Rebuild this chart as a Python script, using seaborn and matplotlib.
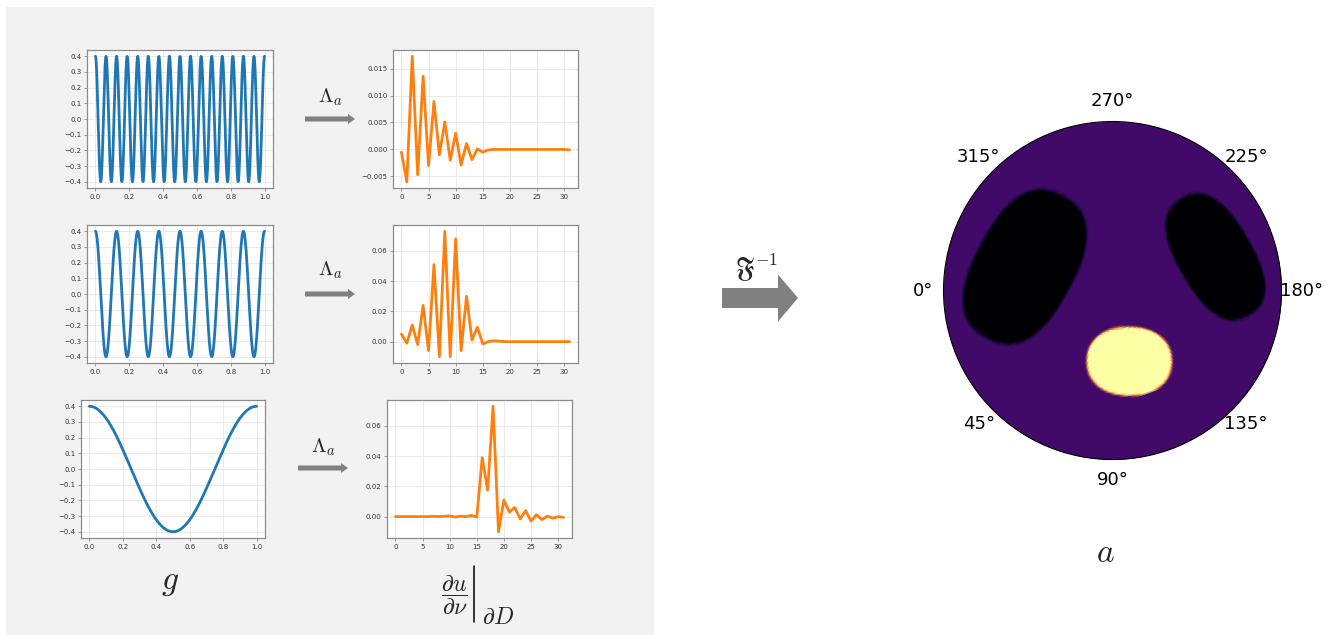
import numpy as np
import matplotlib
matplotlib.use("Agg")
import matplotlib.pyplot as plt
import matplotlib.patches as mpatches
import seaborn as sns

W, H = 1327, 635

# boundary data g = amp * cos(2*pi*freq*x), one row per frequency
freqs = [16, 8, 1]
amp = 0.4

# measured Neumann data, 32 boundary samples per row
resp_16 = [-0.0005, -0.006, 0.0173, -0.0047, 0.0136, -0.003, 0.0089, -0.001,
           0.0051, -0.002, 0.003, -0.0029, 0.0011, -0.0019, 0.0001, -0.0005,
           -0.0001, 0.0, 0.0, 0.0, 0.0, 0.0, 0.0, 0.0,
           0.0, 0.0, 0.0, 0.0, 0.0, 0.0, 0.0, -0.0001]
resp_8 = [0.005, -0.001, 0.011, -0.002, 0.024, -0.006, 0.051, -0.010,
          0.073, -0.010, 0.068, -0.006, 0.030, 0.001, 0.0095, -0.0015,
          0.0, 0.0005, 0.0003, 0.0, 0.0, 0.0, 0.0, 0.0,
          0.0, 0.0, 0.0, 0.0, 0.0, 0.0, 0.0, 0.0]
resp_1 = [0.0, 0.0, 0.0, 0.0, 0.0, 0.0, 0.0, 0.0002,
          0.0, 0.0002, 0.0005, -0.0003, 0.0003, 0.0, 0.0008, -0.0003,
          0.039, 0.0175, 0.073, -0.010, 0.011, 0.003, 0.006, -0.0015,
          0.004, -0.003, 0.0013, -0.002, 0.0003, -0.001, 0.0, -0.0005]
responses = [resp_16, resp_8, resp_1]

# reconstructed conductivity: inclusions as (super)ellipses in the unit disc
blob_u = [-0.52, 0.61, 0.10]
blob_v = [0.14, 0.20, -0.42]
blob_a = [0.49, 0.41, 0.26]
blob_b = [0.30, 0.225, 0.21]
blob_angle = [62, -60, 0]
blob_power = [2.5, 2.5, 2.2]
blob_level = [0.0, 0.0, 1.0]
background_level = 0.2

theta_labels = ["0°", "45°", "90°", "135°", "180°", "225°", "270°", "315°"]

sns.set_style("whitegrid", {
    "axes.edgecolor": "#8c8c8c",
    "grid.color": "#e6e6e6",
    "xtick.bottom": True,
    "ytick.left": True,
    "xtick.color": "#8c8c8c",
    "ytick.color": "#8c8c8c",
})
plt.rcParams["mathtext.fontset"] = "cm"

fig = plt.figure(figsize=(W / 100, H / 100), dpi=100)
fig.patches.append(mpatches.Rectangle((6 / W, 0), (654 - 6) / W, 1 - 7 / H,
                                      transform=fig.transFigure,
                                      facecolor="#f2f2f2", edgecolor="none",
                                      zorder=-5))


def px_axes(x0, y0, x1, y1, **kw):
    return fig.add_axes([x0 / W, 1 - y1 / H, (x1 - x0) / W, (y1 - y0) / H], **kw)


def style_small(ax):
    ax.tick_params(labelsize=5, length=2, width=0.6, labelcolor="#333333", pad=2)
    for s in ax.spines.values():
        s.set_linewidth(0.9)
    ax.grid(True, lw=0.6)


left_boxes = [(87, 50, 273, 188), (87, 225, 273, 363), (81, 400, 265, 538)]
right_boxes = [(393, 50, 578, 188), (393, 225, 578, 363), (387, 400, 572, 538)]

x = np.linspace(0, 1, 600)
for f, box in zip(freqs, left_boxes):
    ax = px_axes(*box)
    sns.lineplot(x=x, y=amp * np.cos(2 * np.pi * f * x), ax=ax,
                 color="#1f77b4", lw=2)
    ax.set_xticks(np.arange(0, 1.01, 0.2))
    ax.set_yticks(np.arange(-0.4, 0.41, 0.1))
    style_small(ax)

for resp, box in zip(responses, right_boxes):
    ax = px_axes(*box)
    sns.lineplot(x=np.arange(len(resp)), y=resp, ax=ax, color="#ff7f0e", lw=2)
    ax.set_xticks(np.arange(0, 31, 5))
    style_small(ax)

# overlay in pixel coordinates for arrows and labels
ov = fig.add_axes([0, 0, 1, 1], facecolor="none")
ov.set_xlim(0, W)
ov.set_ylim(H, 0)
ov.axis("off")

for (x0, x1, yy, ly) in [(305, 355, 119, 97), (305, 355, 294, 270), (298, 348, 468, 447)]:
    ov.add_patch(mpatches.FancyArrow(x0, yy, x1 - x0, 0, width=5, head_width=10,
                                     head_length=7, length_includes_head=True,
                                     color="#808080", lw=0))
    ov.text((x0 + x1) / 2, ly, r"$\Lambda_a$", fontsize=15, ha="center", va="center")

ov.add_patch(mpatches.FancyArrow(722, 298, 76, 0, width=20, head_width=47,
                                 head_length=20, length_includes_head=True,
                                 color="#808080", lw=0))
ov.text(757, 268, r"$\mathfrak{F}^{\mathbf{-1}}$", fontsize=18, ha="center",
        va="center")

ov.text(170, 582, r"$g$", fontsize=24, ha="center", va="center")
ov.text(454, 595, r"$\dfrac{\partial u}{\partial \nu}$", fontsize=17,
        ha="center", va="center")
ov.plot([474, 474], [566, 622], color="black", lw=1.1)
ov.text(482, 617, r"$\partial D$", fontsize=17, ha="left", va="center")
ov.text(1105, 552, r"$a$", fontsize=24, ha="center", va="center")

# polar reconstruction
pax = px_axes(943.5, 121.5, 1281.5, 459.5, projection="polar")
th = np.linspace(0, 2 * np.pi, 241)
rr = np.linspace(0, 1, 81)
T, R = np.meshgrid(th, rr)
U = -R * np.cos(T)
V = -R * np.sin(T)
field = np.full_like(U, background_level)
for cu, cv, a, b, ang, pw, lev in zip(blob_u, blob_v, blob_a, blob_b, blob_angle,
                                      blob_power, blob_level):
    phi = np.deg2rad(ang)
    du, dv = U - cu, V - cv
    p = du * np.cos(phi) + dv * np.sin(phi)
    q = -du * np.sin(phi) + dv * np.cos(phi)
    d = (np.abs(p / a) ** pw + np.abs(q / b) ** pw) ** (1 / pw)
    m = np.clip((1.0 - d) / 0.05, 0, 1)
    field = field + (lev - background_level) * m
pax.pcolormesh(T, R, field, cmap="inferno", vmin=0, vmax=1, shading="gouraud")
pax.set_theta_zero_location("W")
pax.set_theta_direction(1)
pax.set_thetagrids(np.arange(0, 360, 45), theta_labels, fontsize=13)
pax.set_rticks([])
pax.set_ylim(0, 1)
pax.grid(False)
pax.spines["polar"].set_color("black")
pax.spines["polar"].set_linewidth(0.8)
pax.tick_params(pad=4, labelcolor="black")

fig.savefig("out.png", dpi=100)
